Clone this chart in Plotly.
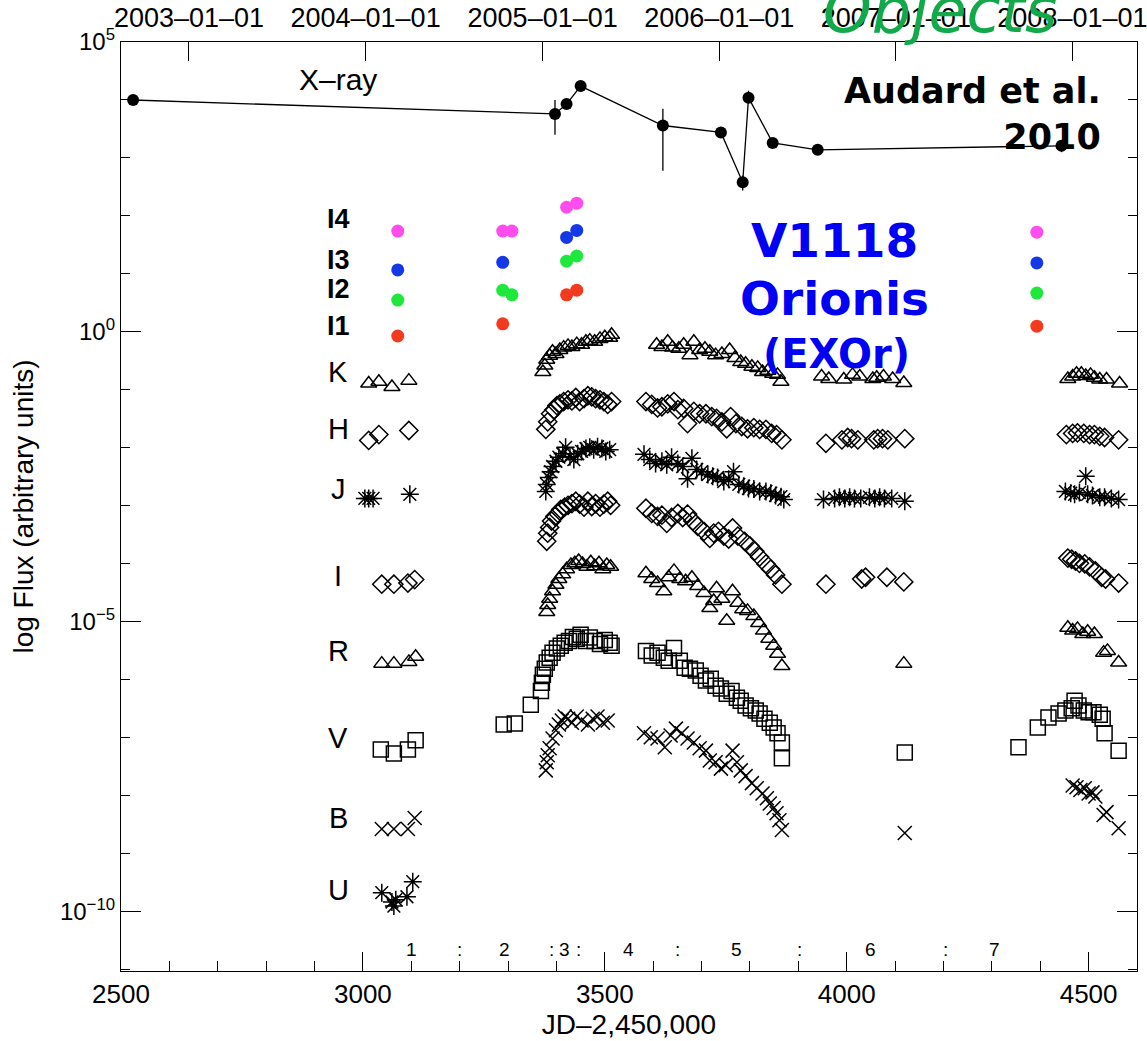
import numpy as np
import pandas as pd
import plotly.graph_objects as go

# ---------------------------------------------------------------------------
# Light curves of V1118 Ori, time in JD-2,450,000, flux as log10 (arbitrary
# offsets per band so that every band sits on its own row)
# ---------------------------------------------------------------------------

# X-ray (with vertical error bars given as log10 bounds)
xray_jd = [2525, 3397, 3421, 3450, 3620, 3740, 3785, 3797, 3847, 3940, 4444]
xray_logf = [4.00, 3.76, 3.93, 4.24, 3.56, 3.44, 2.58, 4.04, 3.26, 3.14, 3.21]
xray_log_hi = [4.05, 4.00, 3.98, 4.28, 3.85, 3.48, 2.70, 4.16, 3.30, 3.18, 3.30]
xray_log_lo = [3.95, 3.40, 3.88, 4.20, 2.78, 3.40, 2.44, 3.98, 3.22, 3.10, 3.10]

# Mid-infrared channels I1..I4
i1_jd = [3072, 3289, 3421, 3442, 4393]
i1_logf = [-0.07, 0.14, 0.64, 0.72, 0.10]
i2_jd = [3072, 3289, 3308, 3421, 3442, 4393]
i2_logf = [0.55, 0.72, 0.64, 1.22, 1.31, 0.67]
i3_jd = [3072, 3289, 3421, 3442, 4393]
i3_logf = [1.07, 1.20, 1.63, 1.75, 1.19]
i4_jd = [3072, 3289, 3308, 3421, 3442, 4393]
i4_logf = [1.74, 1.74, 1.74, 2.15, 2.22, 1.72]

# Near-infrared and optical bands
k_jd = [3012, 3033, 3060, 3095,
        3372, 3376, 3380, 3386, 3392, 3399, 3407, 3415, 3424, 3432, 3442, 3452,
        3461, 3469, 3479, 3490, 3500, 3510, 3514,
        3607, 3618, 3630, 3640, 3653, 3663, 3676, 3684, 3696, 3707, 3717, 3729,
        3742, 3758, 3769, 3781, 3791, 3804, 3816, 3826, 3837, 3847, 3857, 3864,
        3948, 3963, 3994, 4012, 4027, 4054, 4062, 4076, 4095, 4118,
        4457, 4467, 4475, 4485, 4494, 4504, 4512, 4523, 4537, 4564]
k_logf = [-0.89, -0.86, -0.95, -0.84,
          -0.69, -0.58, -0.48, -0.41, -0.34, -0.38, -0.31, -0.27, -0.24, -0.26,
          -0.21, -0.22, -0.17, -0.15, -0.17, -0.12, -0.09, -0.10, -0.05,
          -0.22, -0.26, -0.17, -0.27, -0.29, -0.22, -0.40, -0.17, -0.31, -0.29,
          -0.34, -0.40, -0.38, -0.31, -0.45, -0.52, -0.55, -0.60, -0.62, -0.69,
          -0.67, -0.72, -0.74, -0.86,
          -0.77, -0.81, -0.82, -0.74, -0.77, -0.81, -0.79, -0.77, -0.81, -0.88,
          -0.81, -0.77, -0.72, -0.72, -0.76, -0.74, -0.79, -0.82, -0.82, -0.89]

h_jd = [3012, 3033, 3095,
        3378, 3382, 3388, 3395, 3401, 3407, 3415, 3424, 3432, 3440, 3448, 3457,
        3465, 3473, 3481, 3490, 3498, 3506, 3514,
        3585, 3597, 3609, 3618, 3630, 3643, 3651, 3663, 3671, 3684, 3696, 3709,
        3721, 3731, 3742, 3752, 3760, 3771, 3783, 3795, 3808, 3820, 3833, 3845,
        3855, 3866,
        3957, 3990, 4002, 4010, 4023, 4056, 4064, 4074, 4085, 4120,
        4454, 4467, 4477, 4490, 4502, 4512, 4523, 4533, 4562]
h_logf = [-1.87, -1.77, -1.70,
          -1.68, -1.55, -1.41, -1.34, -1.27, -1.24, -1.20, -1.17, -1.19, -1.13,
          -1.20, -1.15, -1.10, -1.12, -1.15, -1.17, -1.20, -1.25, -1.20,
          -1.20, -1.25, -1.31, -1.29, -1.24, -1.20, -1.34, -1.32, -1.58, -1.37,
          -1.41, -1.41, -1.46, -1.49, -1.55, -1.67, -1.46, -1.58, -1.63, -1.67,
          -1.65, -1.68, -1.68, -1.75, -1.77, -1.86,
          -1.92, -1.86, -1.82, -1.84, -1.86, -1.86, -1.84, -1.84, -1.86, -1.84,
          -1.77, -1.75, -1.74, -1.75, -1.77, -1.77, -1.80, -1.82, -1.86]

j_jd = [3004, 3012, 3021, 3097,
        3378, 3380, 3384, 3388, 3392, 3399, 3405, 3413, 3419, 3428, 3436, 3444,
        3452, 3461, 3469, 3477, 3485, 3494, 3502, 3510,
        3581, 3593, 3605, 3618, 3628, 3638, 3651, 3661, 3671, 3680, 3690, 3700,
        3713, 3723, 3733, 3746, 3756, 3766, 3777, 3787, 3797, 3808, 3820, 3833,
        3843, 3853, 3864, 3870,
        3952, 3975, 3985, 3996, 4006, 4016, 4029, 4047, 4058, 4068, 4078, 4093,
        4120,
        4452, 4463, 4471, 4481, 4494, 4498, 4508, 4523, 4533, 4547, 4562]
j_logf = [-2.87, -2.87, -2.87, -2.80,
          -2.75, -2.63, -2.51, -2.41, -2.32, -2.23, -2.16, -2.10, -1.99, -2.15,
          -2.20, -2.10, -2.06, -2.01, -1.99, -2.03, -1.98, -2.01, -2.06, -2.03,
          -2.11, -2.20, -2.27, -2.23, -2.29, -2.16, -2.27, -2.32, -2.53, -2.18,
          -2.37, -2.41, -2.46, -2.49, -2.51, -2.58, -2.54, -2.41, -2.63, -2.66,
          -2.70, -2.71, -2.75, -2.75, -2.78, -2.82, -2.84, -2.89,
          -2.89, -2.87, -2.85, -2.87, -2.85, -2.87, -2.87, -2.85, -2.87, -2.85,
          -2.87, -2.87, -2.92,
          -2.75, -2.78, -2.80, -2.77, -2.49, -2.80, -2.82, -2.85, -2.85, -2.87,
          -2.89]

i_jd = [3039, 3064, 3093, 3107,
        3380, 3382, 3386, 3390, 3397, 3403, 3409, 3417, 3424, 3432, 3440, 3448,
        3457, 3465, 3473, 3481, 3490, 3498, 3506, 3512,
        3585, 3597, 3609, 3618, 3628, 3638, 3651, 3661, 3671, 3682, 3692, 3705,
        3717, 3725, 3735, 3746, 3756, 3764, 3775, 3789, 3800, 3810, 3820, 3833,
        3843, 3853, 3866,
        3957, 4031, 4039, 4083, 4118,
        4457, 4465, 4473, 4481, 4492, 4502, 4514, 4527, 4535, 4562]
i_logf = [-4.35, -4.35, -4.33, -4.27,
          -3.61, -3.47, -3.37, -3.26, -3.18, -3.13, -3.06, -3.02, -2.99, -2.96,
          -2.92, -2.97, -3.02, -2.92, -3.01, -2.96, -3.02, -2.97, -2.92, -2.99,
          -3.04, -3.13, -3.18, -3.16, -3.30, -3.20, -3.13, -3.20, -3.14, -3.26,
          -3.35, -3.44, -3.56, -3.47, -3.44, -3.52, -3.57, -3.38, -3.52, -3.61,
          -3.69, -3.78, -3.88, -4.00, -4.09, -4.19, -4.35,
          -4.35, -4.26, -4.23, -4.23, -4.31,
          -3.90, -3.92, -3.95, -3.99, -4.00, -4.05, -4.12, -4.23, -4.26, -4.33]

r_jd = [3039, 3064, 3095, 3109,
        3380, 3382, 3386, 3392, 3399, 3405, 3413, 3421, 3430, 3438, 3446, 3454,
        3463, 3471, 3479, 3488, 3496, 3504, 3512,
        3585, 3597, 3609, 3622, 3632, 3643, 3655, 3667, 3680, 3692, 3705, 3717,
        3725, 3731, 3742, 3752, 3764, 3775, 3785, 3795, 3808, 3818, 3828, 3839,
        3849, 3857, 3866,
        4118,
        4457, 4467, 4477, 4488, 4498, 4512, 4531, 4539, 4562]
r_logf = [-5.72, -5.72, -5.69, -5.60,
          -4.83, -4.71, -4.60, -4.47, -4.36, -4.26, -4.18, -4.09, -4.02, -3.99,
          -3.95, -4.00, -4.05, -3.97, -4.04, -3.99, -4.09, -4.02, -4.05,
          -4.16, -4.26, -4.33, -4.47, -4.23, -4.12, -4.26, -4.30, -4.24, -4.38,
          -4.50, -4.76, -4.64, -4.42, -4.60, -4.98, -4.47, -4.67, -4.78, -4.81,
          -4.90, -5.02, -5.15, -5.29, -5.41, -5.55, -5.76,
          -5.72,
          -5.10, -5.15, -5.12, -5.21, -5.17, -5.21, -5.53, -5.50, -5.70]

v_jd = [3037, 3064, 3093, 3109,
        3291, 3314, 3347,
        3368, 3370, 3372, 3376, 3380, 3386, 3392, 3401, 3409, 3417, 3426, 3434,
        3442, 3450, 3461, 3469, 3479, 3490, 3500, 3510, 3514,
        3585, 3597, 3609, 3622, 3632, 3643, 3655, 3665, 3676, 3688, 3698, 3709,
        3719, 3729, 3740, 3752, 3762, 3773, 3781, 3791, 3802, 3812, 3820, 3830,
        3841, 3849, 3857, 3866, 3866,
        4120,
        4355, 4395, 4417, 4438, 4452, 4465, 4471, 4479, 4490, 4500, 4510, 4523,
        4529, 4533, 4562]
v_logf = [-7.20, -7.27, -7.20, -7.04,
          -6.77, -6.75, -6.43,
          -6.19, -6.05, -5.91, -5.81, -5.70, -5.62, -5.53, -5.46, -5.41, -5.36,
          -5.33, -5.26, -5.29, -5.22, -5.33, -5.27, -5.33, -5.38, -5.31, -5.36,
          -5.41,
          -5.50, -5.58, -5.53, -5.62, -5.67, -5.45, -5.67, -5.79, -5.81, -5.84,
          -5.93, -6.01, -5.98, -6.10, -6.15, -6.24, -6.19, -6.31, -6.36, -6.44,
          -6.49, -6.53, -6.58, -6.67, -6.74, -6.82, -6.92, -7.08, -7.35,
          -7.25,
          -7.16, -6.82, -6.65, -6.58, -6.53, -6.49, -6.36, -6.44, -6.53, -6.56,
          -6.56, -6.60, -6.67, -6.92, -7.22]

b_jd = [3039, 3064, 3093, 3107,
        3378, 3380, 3382, 3386, 3392, 3399, 3405, 3411, 3417, 3424, 3432, 3442,
        3452, 3465, 3475, 3485, 3496, 3506,
        3581, 3595, 3609, 3624, 3636, 3647, 3659, 3671, 3684, 3696, 3709, 3717,
        3729, 3740, 3750, 3764, 3773, 3781, 3791, 3804, 3814, 3826, 3835, 3841,
        3849, 3855, 3861, 3866,
        4120,
        4467, 4475, 4483, 4492, 4500, 4508, 4514, 4531, 4537, 4562]
b_logf = [-8.57, -8.57, -8.57, -8.38,
          -7.56, -7.42, -7.30, -7.18, -7.01, -6.87, -6.77, -6.70, -6.63, -6.67,
          -6.74, -6.63, -6.70, -6.77, -6.67, -6.63, -6.74, -6.70,
          -6.92, -6.99, -7.01, -7.16, -6.96, -6.84, -6.92, -7.01, -7.08, -7.18,
          -7.22, -7.39, -7.42, -7.53, -7.47, -7.22, -7.42, -7.56, -7.66, -7.78,
          -7.87, -7.96, -8.04, -8.13, -8.21, -8.30, -8.42, -8.59,
          -8.64,
          -7.82, -7.85, -7.90, -7.87, -7.96, -7.94, -8.01, -8.33, -8.28, -8.56]

u_jd = [3039, 3060, 3064, 3068, 3091, 3103]
u_logf = [-9.67, -9.83, -9.90, -9.79, -9.74, -9.48]

# Row labels: text and log10 flux of the row
row_labels = ["X–ray", "I4", "I3", "I2", "I1", "K", "H", "J", "I", "R", "V", "B", "U"]
row_label_logf = [4.36, 1.94, 1.24, 0.74, 0.10, -0.69, -1.68, -2.71, -4.21,
                  -5.50, -7.01, -8.38, -9.62]

# Observing-epoch markers along the bottom
epoch_text = ["1", ":", "2", ":", "3", ":", "4", ":", "5", ":", "6", ":", "7"]
epoch_jd = [3100, 3200, 3293, 3390, 3417, 3446, 3548, 3650, 3773, 3903, 4050, 4205, 4305]

# Axis layout values
x_range = [2500, 4600]
y_log_range = [-11.02, 5.0]
top_tick_dates = ["2003-01-01", "2004-01-01", "2005-01-01",
                  "2006-01-01", "2007-01-01", "2008-01-01"]

FONT = "Liberation Sans, Arial, sans-serif"
BOLD = "DejaVu Sans, sans-serif"


def lin(v):
    return 10 ** np.asarray(v, dtype=float)


def jd_to_date(v):
    return pd.to_datetime(v + 2450000 - 2440587.5, unit="D")


fig = go.Figure()

# X-ray light curve
xr = lin(xray_logf)
fig.add_trace(go.Scatter(
    x=xray_jd, y=xr, mode="lines+markers", name="X-ray",
    line=dict(color="black", width=1.3),
    marker=dict(color="black", size=12, symbol="circle"),
    error_y=dict(type="data", symmetric=False,
                 array=lin(xray_log_hi) - xr, arrayminus=xr - lin(xray_log_lo),
                 color="black", thickness=1.3, width=0),
))

# Mid-IR channels
for name, xs, ys, col in [("I4", i4_jd, i4_logf, "#ff4ded"),
                          ("I3", i3_jd, i3_logf, "#1438e6"),
                          ("I2", i2_jd, i2_logf, "#1ee83c"),
                          ("I1", i1_jd, i1_logf, "#f23a1e")]:
    fig.add_trace(go.Scatter(
        x=xs, y=lin(ys), mode="markers", name=name,
        marker=dict(color=col, size=13, symbol="circle", line=dict(width=0)),
    ))

# Near-IR / optical bands with open black symbols
bands = [
    ("K", k_jd, k_logf, "triangle-up-open", 14),
    ("H", h_jd, h_logf, "diamond-open", 14),
    ("J", j_jd, j_logf, "asterisk-open", 15),
    ("I", i_jd, i_logf, "diamond-open", 14),
    ("R", r_jd, r_logf, "triangle-up-open", 14),
    ("V", v_jd, v_logf, "square-open", 15),
    ("B", b_jd, b_logf, "x-thin-open", 14),
    ("U", u_jd, u_logf, "asterisk-open", 15),
]
for name, xs, ys, sym, sz in bands:
    fig.add_trace(go.Scatter(
        x=xs, y=lin(ys), mode="markers", name=name,
        marker=dict(symbol=sym, size=sz, color="black",
                    line=dict(color="black", width=1.5)),
    ))

# Invisible trace carrying the top date axis and the right-hand tick axis
fig.add_trace(go.Scatter(x=[jd_to_date(x_range[0])], y=[1e-30],
                         xaxis="x2", yaxis="y2", mode="markers",
                         marker=dict(opacity=0), hoverinfo="skip",
                         showlegend=False))

annotations = []
for txt, yv in zip(row_labels, row_label_logf):
    bold = txt.startswith("I") and len(txt) == 2
    annotations.append(dict(
        x=2949, y=yv, xref="x", yref="y", text=f"<b>{txt}</b>" if bold else txt,
        showarrow=False, xanchor="center", yanchor="middle",
        font=dict(family=FONT, size=(27 if bold else 29) if txt != "X–ray" else 30,
                  color="black"),
    ))
for txt, xv in zip(epoch_text, epoch_jd):
    annotations.append(dict(
        x=xv, y=-10.65, xref="x", yref="y", text=txt, showarrow=False,
        xanchor="center", yanchor="middle",
        font=dict(family=FONT, size=19, color="black"),
    ))

annotations += [
    dict(x=0.9665, y=0.9225, xref="paper", yref="paper",
         text="<b>Audard et al.<br>2010</b>", showarrow=False,
         xanchor="right", yanchor="middle", align="right",
         font=dict(family=BOLD, size=35, color="black")),
    dict(x=0.7018, y=0.7858, xref="paper", yref="paper", text="<b>V1118</b>",
         showarrow=False, xanchor="center", yanchor="middle",
         font=dict(family=BOLD, size=47, color="#0000f5")),
    dict(x=0.7018, y=0.7244, xref="paper", yref="paper", text="<b>Orionis</b>",
         showarrow=False, xanchor="center", yanchor="middle",
         font=dict(family=BOLD, size=47, color="#0000f5")),
    dict(x=0.7040, y=0.6642, xref="paper", yref="paper", text="<b>(EXOr)</b>",
         showarrow=False, xanchor="center", yanchor="middle",
         font=dict(family=BOLD, size=40, color="#0000f5")),
    dict(x=0.806, y=0.992, xref="paper", yref="paper", text="<i>Objects</i>",
         showarrow=False, xanchor="center", yanchor="bottom",
         font=dict(family=BOLD, size=62, color="#12a94b")),
]

axis_font = dict(family=FONT, size=26, color="black")

fig.update_layout(
    width=1147, height=1041,
    margin=dict(l=121, r=10, t=42, b=70, autoexpand=False),
    paper_bgcolor="white", plot_bgcolor="white",
    showlegend=False,
    annotations=annotations,
    xaxis=dict(
        range=x_range, showgrid=False, zeroline=False, automargin=False,
        showline=True, linecolor="black", linewidth=1.3, mirror=True,
        ticks="inside", tickvals=[2500, 3000, 3500, 4000, 4500],
        ticklen=19, tickwidth=1.2, tickcolor="black",
        ticklabeloverflow="allow",
        minor=dict(dtick=100, tick0=2500, ticks="inside", ticklen=10,
                   tickwidth=1.2, tickcolor="black", showgrid=False),
        tickfont=axis_font,
        title=dict(text="JD–2,450,000", standoff=4,
                   font=dict(family=FONT, size=28, color="black")),
    ),
    xaxis2=dict(
        type="date", overlaying="x", side="top", automargin=False,
        range=[jd_to_date(x_range[0]), jd_to_date(x_range[1])],
        tickvals=[pd.Timestamp(d) for d in top_tick_dates],
        tickformat="%Y–%m–%d", ticklabelstandoff=9,
        ticklabeloverflow="allow",
        showgrid=False, zeroline=False, showline=False,
        ticks="inside", ticklen=19, tickwidth=1.2, tickcolor="black",
        tickfont=dict(family=FONT, size=27, color="black"),
    ),
    yaxis=dict(
        type="log", range=y_log_range, showgrid=False, zeroline=False,
        automargin=False, ticklabeloverflow="allow",
        showline=True, linecolor="black", linewidth=1.3, mirror=True,
        ticks="inside", ticklen=20, tickwidth=1.2, tickcolor="black",
        tickvals=[1e-10, 1e-5, 1, 1e5],
        ticktext=["10<sup>−10</sup>", "10<sup>−5</sup>", "10<sup>0</sup>",
                  "10<sup>5</sup>"],
        minor=dict(tickvals=[10.0 ** k for k in range(-11, 6)], ticks="inside",
                   ticklen=9, tickwidth=1.2, tickcolor="black", showgrid=False),
        tickfont=dict(family=FONT, size=24, color="black"),
        title=dict(text="log Flux (arbitrary units)", standoff=18,
                   font=dict(family=FONT, size=28, color="black")),
    ),
    yaxis2=dict(
        type="log", range=y_log_range, overlaying="y", side="right",
        automargin=False,
        showgrid=False, zeroline=False, showline=False, showticklabels=False,
        ticks="inside", ticklen=20, tickwidth=1.2, tickcolor="black",
        tickvals=[1e-10, 1e-5, 1, 1e5],
        minor=dict(tickvals=[10.0 ** k for k in range(-11, 6)], ticks="inside",
                   ticklen=9, tickwidth=1.2, tickcolor="black", showgrid=False),
    ),
)

fig.write_html("out.html")
